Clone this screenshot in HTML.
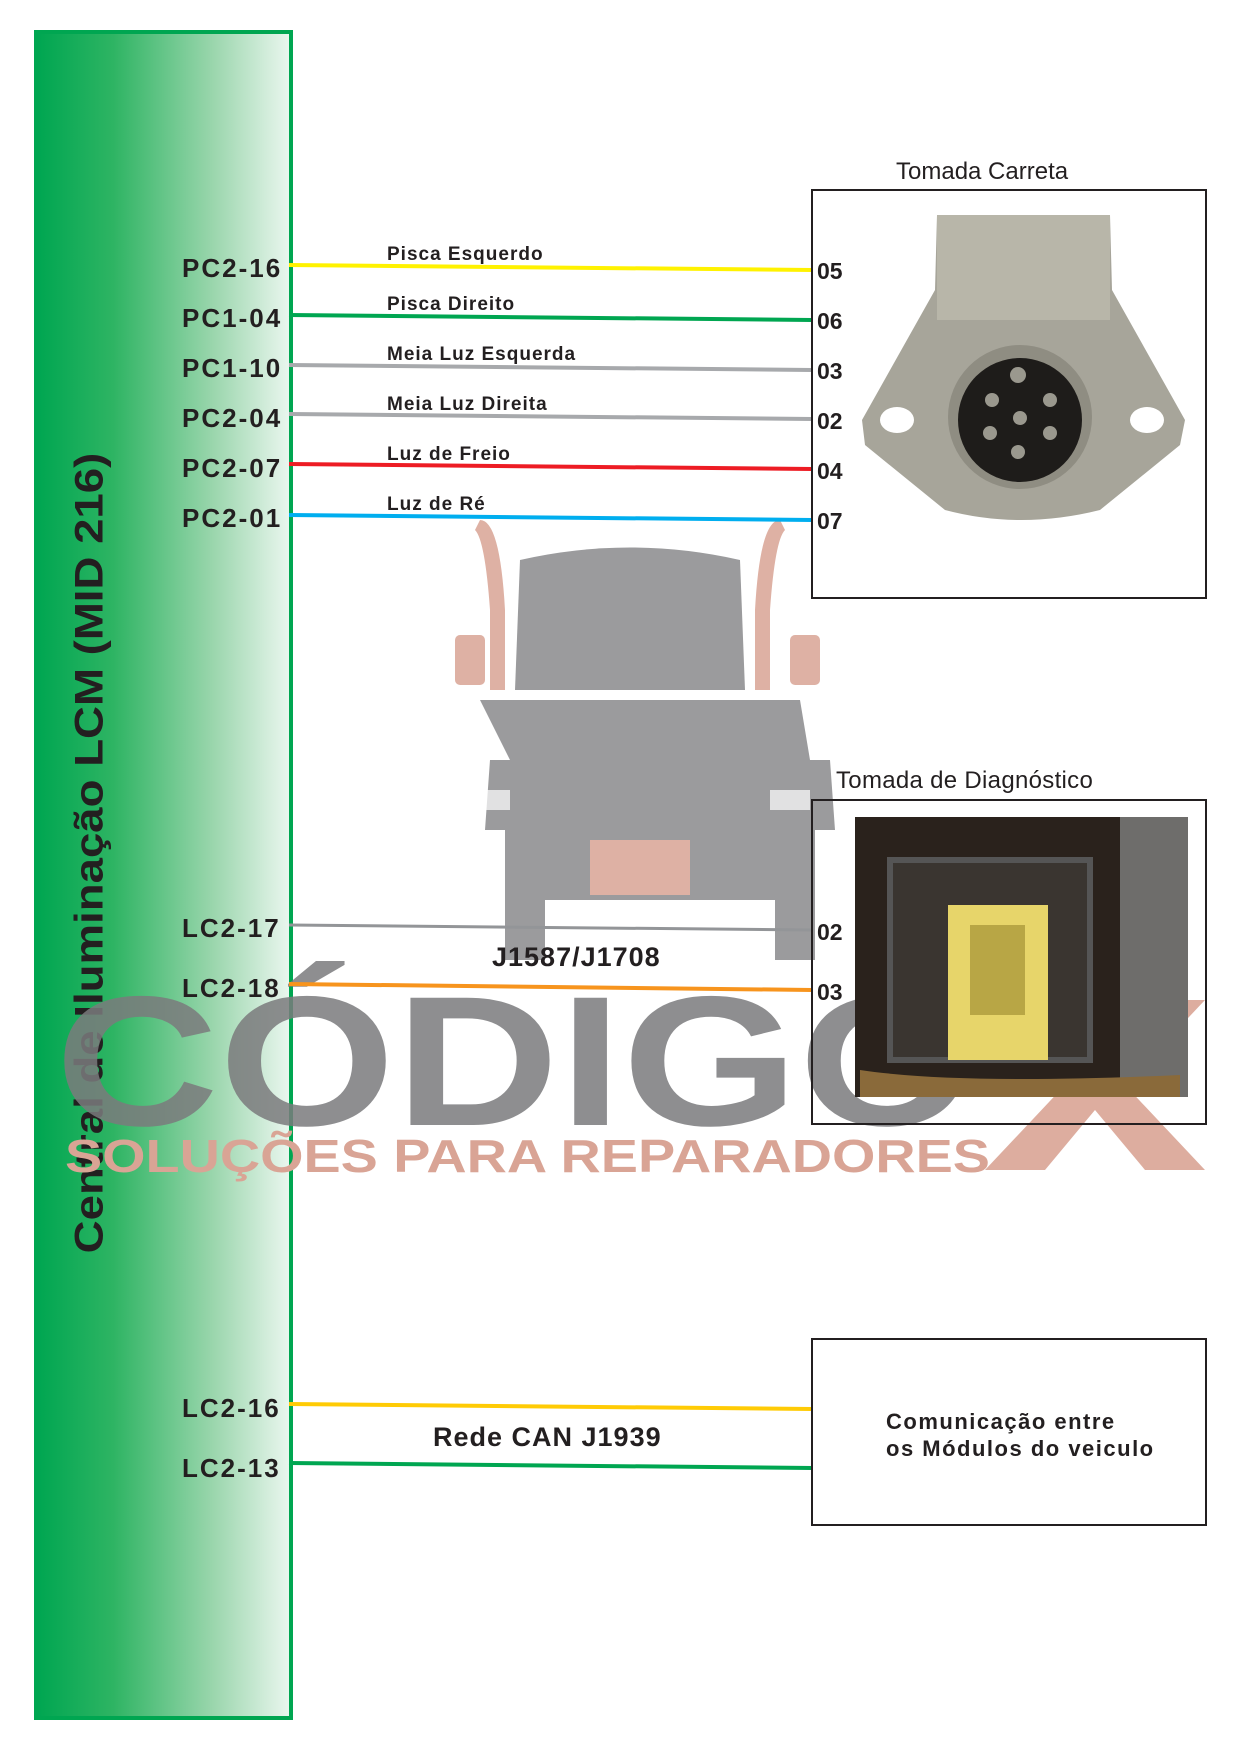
<!DOCTYPE html>
<html><head><meta charset="utf-8"><style>
body{margin:0;width:1242px;height:1755px;background:#fff;position:relative;overflow:hidden;font-family:"Liberation Sans",sans-serif}
.a{position:absolute}
.lbl{position:absolute;font-weight:bold;font-size:26px;color:#231f20;letter-spacing:2px}
.wl{position:absolute;font-weight:bold;font-size:19px;color:#231f20;letter-spacing:1px}
.pin{position:absolute;font-weight:bold;font-size:23px;color:#231f20}
</style></head><body>
<div class="a" style="left:34px;top:30px;width:251px;height:1682px;border:4px solid #00a651;background:linear-gradient(to right,#00a651 0%,#2eb463 30%,#9bd6ad 70%,#e9f6ee 100%)"></div>
<div class="a" style="left:90px;top:853px;width:0;height:0">
<div style="position:absolute;transform:translate(-50%,-50%) rotate(-90deg) scaleX(1.14);white-space:nowrap;font-weight:bold;font-size:40px;color:#231f20">Central de Iluminação LCM (MID 216)</div></div>

<svg class="a" style="left:0;top:0" width="1242" height="1755">
<g opacity="0.85">
<path d="M480 520 q20 0 25 90 l0 80 l-15 0 l0 -80 q-5 -70 -15 -80z" fill="#d9a495"/>
<path d="M780 520 q-20 0 -25 90 l0 80 l15 0 l0 -80 q5 -70 15 -80z" fill="#d9a495"/>
<rect x="455" y="635" width="30" height="50" rx="5" fill="#d9a495"/>
<rect x="790" y="635" width="30" height="50" rx="5" fill="#d9a495"/>
<path d="M520 560 q110 -25 220 0 l5 130 l-230 0z" fill="#8a8a8c"/>
<path d="M480 700 l320 0 l10 60 l20 0 l5 70 l-20 0 l0 130 l-40 0 l0 -60 l-230 0 l0 60 l-40 0 l0 -130 l-20 0 l5 -70 l20 0z" fill="#8a8a8c"/>
<rect x="590" y="840" width="100" height="55" fill="#d9a495"/>
<rect x="470" y="790" width="40" height="20" fill="#fff" opacity="0.7"/>
<rect x="770" y="790" width="40" height="20" fill="#fff" opacity="0.7"/>
</g>
<text x="55" y="1125" font-family="Liberation Sans" font-weight="bold" font-size="185" fill="#7b7b7d" opacity="0.85" textLength="920" lengthAdjust="spacingAndGlyphs">CÓDIGO</text>
<path d="M985 1000 l60 0 l50 60 l50 -60 l60 0 l-80 85 l80 85 l-60 0 l-50 -60 l-50 60 l-60 0 l80 -85z" fill="#d9a495" opacity="0.9"/>
<text x="65" y="1172" font-family="Liberation Sans" font-weight="bold" font-size="46" fill="#d9a495" textLength="925" lengthAdjust="spacingAndGlyphs">SOLUÇÕES PARA REPARADORES</text>
<g stroke-width="4" fill="none">
<line x1="289" y1="265" x2="812" y2="270" stroke="#fff200"/>
<line x1="289" y1="315" x2="812" y2="320" stroke="#00a651"/>
<line x1="289" y1="365" x2="812" y2="370" stroke="#a7a9ac"/>
<line x1="289" y1="414" x2="812" y2="419" stroke="#a7a9ac"/>
<line x1="289" y1="464" x2="812" y2="469" stroke="#ed1c24"/>
<line x1="289" y1="515" x2="812" y2="520" stroke="#00aeef"/>
<line x1="289" y1="925" x2="812" y2="930" stroke="#939598" stroke-width="3"/>
<line x1="289" y1="984" x2="812" y2="990" stroke="#f7941d"/>
<line x1="289" y1="1404" x2="812" y2="1409" stroke="#ffcb05"/>
<line x1="289" y1="1463" x2="812" y2="1468" stroke="#00a651"/>
</g>
<rect x="812" y="190" width="394" height="408" fill="none" stroke="#231f20" stroke-width="2"/>
<rect x="812" y="800" width="394" height="324" fill="none" stroke="#231f20" stroke-width="2"/>
<rect x="812" y="1339" width="394" height="186" fill="#fff" stroke="#231f20" stroke-width="2"/>
<path d="M862 420 L935 290 L937 215 L1110 215 L1112 290 L1185 420 L1180 445 L1100 510 Q1020 530 945 510 L865 445Z" fill="#a7a59a"/>
<rect x="937" y="215" width="173" height="105" fill="#b8b6a9"/>
<circle cx="1020" cy="417" r="72" fill="#8f8d82"/>
<circle cx="1020" cy="420" r="62" fill="#1e1c1a"/>
<g fill="#9a988e"><circle cx="1018" cy="375" r="8"/><circle cx="992" cy="400" r="7"/><circle cx="1050" cy="400" r="7"/><circle cx="1020" cy="418" r="7"/><circle cx="990" cy="433" r="7"/><circle cx="1050" cy="433" r="7"/><circle cx="1018" cy="452" r="7"/></g>
<ellipse cx="897" cy="420" rx="17" ry="13" fill="#fff"/>
<ellipse cx="1147" cy="420" rx="17" ry="13" fill="#fff"/>
<rect x="855" y="817" width="333" height="280" fill="#2a221c"/>
<rect x="1120" y="817" width="68" height="280" fill="#6e6d6b"/>
<rect x="890" y="860" width="200" height="200" fill="#3a3530" stroke="#555" stroke-width="6"/>
<rect x="948" y="905" width="100" height="155" fill="#e7d56a"/>
<rect x="970" y="925" width="55" height="90" fill="#b8a645"/>
<path d="M860 1070 q100 15 320 5 l0 22 l-320 0z" fill="#8a6a3a"/>
</svg>

<div class="lbl" style="left:182px;top:253px">PC2-16</div>
<div class="lbl" style="left:182px;top:303px">PC1-04</div>
<div class="lbl" style="left:182px;top:353px">PC1-10</div>
<div class="lbl" style="left:182px;top:403px">PC2-04</div>
<div class="lbl" style="left:182px;top:453px">PC2-07</div>
<div class="lbl" style="left:182px;top:503px">PC2-01</div>
<div class="lbl" style="left:182px;top:913px">LC2-17</div>
<div class="lbl" style="left:182px;top:973px">LC2-18</div>
<div class="lbl" style="left:182px;top:1393px">LC2-16</div>
<div class="lbl" style="left:182px;top:1453px">LC2-13</div>

<div class="wl" style="left:387px;top:244px">Pisca Esquerdo</div>
<div class="wl" style="left:387px;top:294px">Pisca Direito</div>
<div class="wl" style="left:387px;top:344px">Meia Luz Esquerda</div>
<div class="wl" style="left:387px;top:394px">Meia Luz Direita</div>
<div class="wl" style="left:387px;top:444px">Luz de Freio</div>
<div class="wl" style="left:387px;top:494px">Luz de Ré</div>

<div class="pin" style="left:817px;top:258px">05</div>
<div class="pin" style="left:817px;top:308px">06</div>
<div class="pin" style="left:817px;top:358px">03</div>
<div class="pin" style="left:817px;top:408px">02</div>
<div class="pin" style="left:817px;top:458px">04</div>
<div class="pin" style="left:817px;top:508px">07</div>
<div class="pin" style="left:817px;top:919px">02</div>
<div class="pin" style="left:817px;top:979px">03</div>

<div class="a" style="left:896px;top:158px;font-size:24px;color:#231f20">Tomada Carreta</div>
<div class="a" style="left:836px;top:767px;font-size:24px;color:#231f20;letter-spacing:0.3px">Tomada de Diagnóstico</div>
<div class="a" style="left:492px;top:942px;font-size:27px;font-weight:bold;color:#231f20;letter-spacing:1px">J1587/J1708</div>
<div class="a" style="left:433px;top:1422px;font-size:27px;font-weight:bold;color:#231f20;letter-spacing:1px">Rede CAN J1939</div>
<div class="a" style="left:886px;top:1408px;font-size:22px;font-weight:bold;color:#231f20;line-height:27px;letter-spacing:1.5px">Comunicação entre<br>os Módulos do veiculo</div>
</body></html>
